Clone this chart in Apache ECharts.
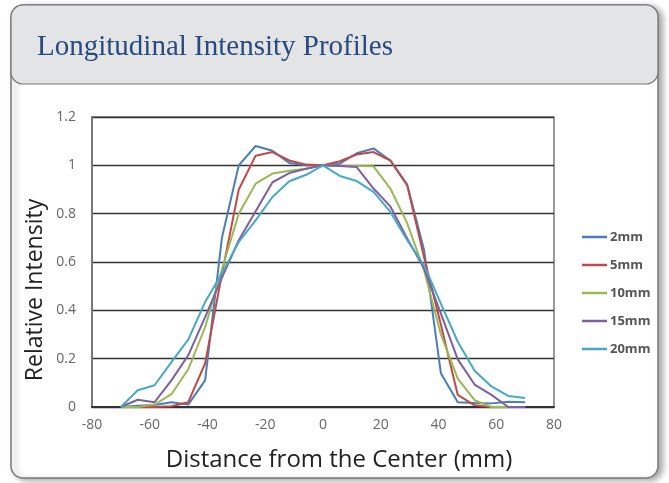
<!DOCTYPE html>
<html>
<head>
<meta charset="utf-8">
<script src="https://cdn.jsdelivr.net/npm/echarts@6/dist/echarts.min.js"></script>
<style>
html,body{margin:0;padding:0;background:#fff;}
#chart{width:669px;height:483px;}
</style>
</head>
<body>
<div id="chart"></div>
<script>
var titleText = 'Longitudinal Intensity Profiles';
var xTitle = 'Distance from the Center (mm)';
var yTitle = 'Relative Intensity';
var seriesNames = ['2mm', '5mm', '10mm', '15mm', '20mm'];
var seriesColors = ['#4a7ebb', '#be4b48', '#98b954', '#7d60a0', '#46aac5'];

var distances = [-70, -64.17, -58.33, -52.5, -46.67, -40.83, -35, -29.17, -23.33, -17.5, -11.67, -5.83, 0,
  5.83, 11.67, 17.5, 23.33, 29.17, 35, 40.83, 46.67, 52.5, 58.33, 64.17, 70];

var profile2mm  = [0, 0.005, 0.008, 0.02, 0.01, 0.11, 0.70, 1.0, 1.08, 1.06, 1.01, 1.0, 1.0,
  1.007, 1.05, 1.07, 1.02, 0.92, 0.65, 0.14, 0.02, 0.017, 0.015, 0.022, 0.02];
var profile5mm  = [0, 0, 0, 0.003, 0.02, 0.18, 0.55, 0.90, 1.04, 1.055, 1.02, 1.003, 1.0,
  1.017, 1.045, 1.055, 1.02, 0.917, 0.62, 0.34, 0.05, 0.007, 0, 0, 0];
var profile10mm = [0, 0, 0.01, 0.053, 0.156, 0.33, 0.57, 0.80, 0.924, 0.966, 0.978, 0.986, 1.0,
  0.997, 0.997, 0.996, 0.904, 0.76, 0.566, 0.30, 0.117, 0.028, 0, 0, 0];
var profile15mm = [0, 0.03, 0.02, 0.11, 0.214, 0.372, 0.535, 0.69, 0.81, 0.93, 0.968, 0.986, 1.0,
  0.997, 0.993, 0.904, 0.83, 0.697, 0.573, 0.386, 0.197, 0.093, 0.05, 0, 0];
var profile20mm = [0, 0.069, 0.09, 0.186, 0.279, 0.434, 0.553, 0.683, 0.772, 0.869, 0.934, 0.961, 1.0,
  0.956, 0.935, 0.89, 0.807, 0.69, 0.586, 0.428, 0.27, 0.15, 0.085, 0.046, 0.037];

var profiles = [profile2mm, profile5mm, profile10mm, profile15mm, profile20mm];

var chart = echarts.init(document.getElementById('chart'), null, {renderer: 'canvas'});

var series = seriesNames.map(function (name, k) {
  return {
    name: name,
    type: 'line',
    symbol: 'none',
    lineStyle: {width: 2, color: seriesColors[k]},
    itemStyle: {color: seriesColors[k]},
    data: distances.map(function (d, i) { return [d, profiles[k][i]]; }),
    z: 5 + k
  };
});

var option = {
  animation: false,
  backgroundColor: 'transparent',
  graphic: [
    {type: 'rect', z: -20, shape: {x: 11, y: 5, width: 647, height: 473, r: 12},
     style: {fill: '#ffffff', stroke: '#7a7a7a', lineWidth: 1.5,
             shadowColor: 'rgba(0,0,0,0.35)', shadowBlur: 6, shadowOffsetX: 4, shadowOffsetY: 2}},
    {type: 'rect', z: -19, shape: {x: 11, y: 5, width: 647, height: 79, r: 12},
     style: {fill: '#e3e4e6', stroke: '#777777', lineWidth: 1.2}}
  ],
  title: {
    text: titleText,
    left: 32,
    top: 28,
    textStyle: {fontFamily: '"Liberation Serif", "Times New Roman", serif', fontSize: 29,
                fontWeight: 'normal', color: '#284a7e'}
  },
  legend: {
    orient: 'vertical',
    left: 582,
    top: 230,
    padding: 0,
    icon: 'rect',
    itemWidth: 25,
    itemHeight: 2.5,
    itemGap: 14,
    textStyle: {fontFamily: '"Open Sans", sans-serif', fontSize: 13, fontWeight: 'bold',
                color: '#555', lineHeight: 14, padding: [0, 0, 0, -2]},
    data: seriesNames
  },
  grid: {
    left: 92, right: 115, top: 117, bottom: 76,
    show: true, borderColor: '#7a7a7a', borderWidth: 1.5, backgroundColor: 'transparent'
  },
  xAxis: {
    type: 'value', min: -80, max: 80, interval: 20,
    name: xTitle, nameLocation: 'middle', nameGap: 41,
    nameTextStyle: {fontFamily: '"Open Sans", sans-serif', fontSize: 24, color: '#222', padding: [0, 0, 0, 32]},
    axisLine: {show: true, onZero: false, lineStyle: {color: '#333', width: 2}},
    axisTick: {show: false},
    splitLine: {show: false},
    axisLabel: {margin: 11, fontFamily: '"Open Sans", sans-serif', fontSize: 14, color: '#666'}
  },
  yAxis: {
    type: 'value', min: 0, max: 1.2, interval: 0.2,
    name: yTitle, nameLocation: 'middle', nameGap: 45, nameMoveOverlap: false,
    nameTextStyle: {fontFamily: '"Open Sans", sans-serif', fontSize: 23, color: '#222', padding: [0, 56, 0, 0]},
    axisLine: {show: true, onZero: false, lineStyle: {color: '#777', width: 2}},
    axisTick: {show: false},
    splitLine: {show: true, lineStyle: {color: '#333', width: 1.3}},
    axisLabel: {margin: 16, fontFamily: '"Open Sans", sans-serif', fontSize: 14, color: '#666'}
  },
  series: series
};

chart.setOption(option);
</script>
</body>
</html>
